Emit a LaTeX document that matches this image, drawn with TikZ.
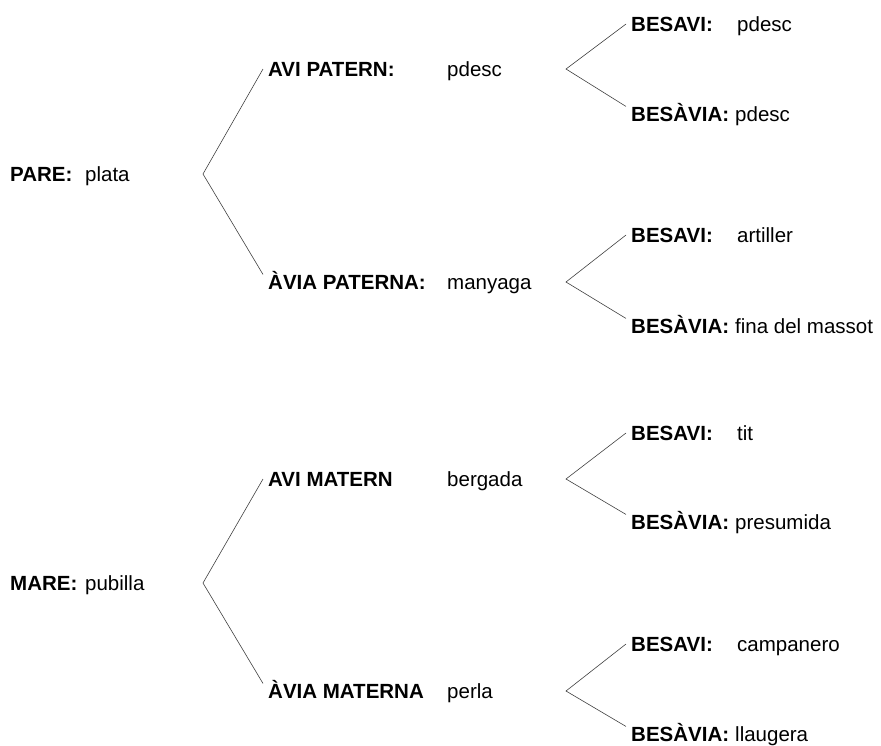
\documentclass[tikz,border=0pt]{standalone}
\usepackage{fontspec}
\setmainfont{Liberation Sans}
\usepackage{tikz}

\begin{document}
\begin{tikzpicture}[x=1pt,y=-1pt,
		lbl/.style={anchor=west,inner xsep=5pt,inner ysep=0pt,text height=14.7pt,text depth=0pt,font=\fontsize{20.5}{24}\selectfont\bfseries},
		val/.style={lbl,font=\fontsize{20.5}{24}\selectfont},
		brk/.style={line width=0.6pt,black!75}]
		\useasboundingbox (0,0) rectangle (881,745);
	
		% pares
		\node[lbl] (pare) at (5,174) {PARE:};
		\node[val] (parev) at (80,174) {plata};
		\node[lbl] (mare) at (5,583) {MARE:};
		\node[val] (marev) at (80,583) {pubilla};
		\coordinate (ap1) at (203,174);
		\coordinate (ap2) at (203,583);
	
		% avis
		\node[lbl] (avip) at (263,69) {AVI PATERN:};
		\node[val] (avipv) at (442,69) {pdesc};
		\node[lbl] (aviap) at (263,282) {ÀVIA PATERNA:};
		\node[val] (aviapv) at (442,282) {manyaga};
		\node[lbl] (avim) at (263,479) {AVI MATERN};
		\node[val] (avimv) at (442,479) {bergada};
		\node[lbl] (aviam) at (263,691) {ÀVIA MATERNA};
		\node[val] (aviamv) at (442,691) {perla};
		\coordinate (ap3) at (566,69);
		\coordinate (ap4) at (566,282);
		\coordinate (ap5) at (566,479);
		\coordinate (ap6) at (566,691);
	
		% besavis
		\node[lbl] (bs1) at (626,24) {BESAVI:};
		\node[val] (bs1v) at (732,24) {pdesc};
		\node[lbl] (bsa1) at (626,114) {BESÀVIA:};
		\node[val] (bsa1v) at (730,114) {pdesc};
		\node[lbl] (bs2) at (626,235) {BESAVI:};
		\node[val] (bs2v) at (732,235) {artiller};
		\node[lbl] (bsa2) at (626,326) {BESÀVIA:};
		\node[val] (bsa2v) at (730,326) {fina del massot};
		\node[lbl] (bs3) at (626,433) {BESAVI:};
		\node[val] (bs3v) at (732,433) {tit};
		\node[lbl] (bsa3) at (626,522) {BESÀVIA:};
		\node[val] (bsa3v) at (730,522) {presumida};
		\node[lbl] (bs4) at (626,644) {BESAVI:};
		\node[val] (bs4v) at (732,644) {campanero};
		\node[lbl] (bsa4) at (626,734) {BESÀVIA:};
		\node[val] (bsa4v) at (730,734) {llaugera};
	
		\draw[brk] (avip.west) -- (ap1) -- (aviap.north west);
		\draw[brk] (avim.west) -- (ap2) -- (aviam.north west);
		\draw[brk] (bs1.west) -- (ap3) -- (bsa1.north west);
		\draw[brk] (bs2.west) -- (ap4) -- (bsa2.north west);
		\draw[brk] (bs3.west) -- (ap5) -- (bsa3.north west);
		\draw[brk] (bs4.west) -- (ap6) -- (bsa4.north west);
	\end{tikzpicture}
\end{document}
